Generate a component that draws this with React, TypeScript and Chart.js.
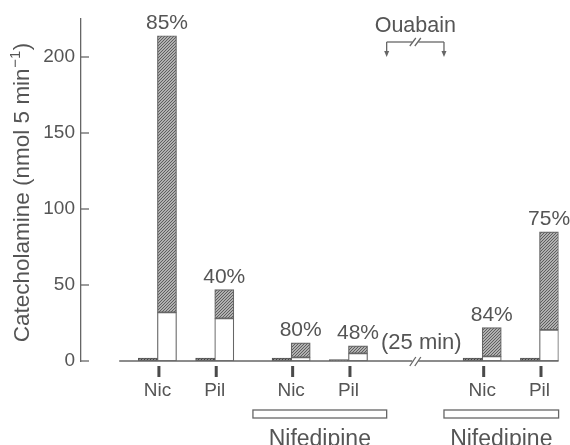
import React, { useEffect, useRef } from "react";
import { Chart, registerables } from "chart.js";

Chart.register(...registerables);

// ---- data ----
const stimuli = ["Nic", "Pil", "Nic", "Pil", "Nic", "Pil"];
const basalPeriods = [0, 3, 7, 10, 17, 20];
const stimulatedPeriods = [1, 4, 8, 11, 18, 21];
const basalValues = [2, 2, 2, 1, 2, 2];
const totalValues = [214, 47, 12, 10, 22, 85];
const lowerValues = [32, 28, 2.4, 5, 3, 20.5];
const percentLabels = ["85%", "40%", "80%", "48%", "84%", "75%"];
const yTicks = [0, 50, 100, 150, 200];
const nifedipinePeriods = [
  [6, 12],
  [16, 21],
];
const ouabainPeriods = [13, 15];
const breakPeriod = 14;
const breakLabel = "(25 min)";
const treatmentLabel = "Nifedipine";
const ouabainLabel = "Ouabain";
const yTitleMain = "Catecholamine (nmol 5 min";
const yTitleSup = "\u22121";
const yTitleEnd = ")";

// ---- style ----
const FONT = "'Liberation Sans', Arial, Helvetica, sans-serif";
const TEXT = "#555555";
const LINE = "#666666";

function makeHatch(bg: string, fg: string) {
  const c = document.createElement("canvas");
  c.width = 3;
  c.height = 3;
  const g = c.getContext("2d")!;
  g.fillStyle = bg;
  g.fillRect(0, 0, 3, 3);
  g.fillStyle = fg;
  g.fillRect(0, 2, 1, 1);
  g.fillRect(1, 1, 1, 1);
  g.fillRect(2, 0, 1, 1);
  return g.createPattern(c, "repeat")!;
}

const annotations = {
  id: "annotations",
  afterDraw(chart: any) {
    const { ctx, chartArea } = chart;
    const x = chart.scales.x;
    const y = chart.scales.y;
    const px = (v: number) => x.getPixelForValue(v);
    const py = (v: number) => y.getPixelForValue(v);
    const y0 = py(0);
    const line = (x1: number, y1: number, x2: number, y2: number) => {
      ctx.beginPath();
      ctx.moveTo(x1, y1);
      ctx.lineTo(x2, y2);
      ctx.stroke();
    };
    ctx.save();
    ctx.strokeStyle = LINE;
    ctx.lineWidth = 1.3;

    // inward y ticks
    yTicks.forEach((v) => line(chartArea.left, py(v), chartArea.left + 8, py(v)));

    // time baseline with break
    const xb = px(breakPeriod);
    const xs = px(basalPeriods[0] - 1.5);
    line(xs, y0, xb - 3, y0);
    line(xb + 3, y0, chartArea.right, y0);
    [-2.5, 2.5].forEach((d) => line(xb + d - 3, y0 + 5, xb + d + 3, y0 - 4));

    // stimulus markers
    ctx.fillStyle = "#4a4a4a";
    stimulatedPeriods.forEach((p) => {
      const xm = px(p - 0.5);
      ctx.fillRect(xm, y0 + 5, 3, 11);
    });

    // percent labels
    ctx.fillStyle = TEXT;
    ctx.textAlign = "center";
    ctx.textBaseline = "alphabetic";
    ctx.font = `21px ${FONT}`;
    stimulatedPeriods.forEach((p, i) => {
      ctx.fillText(percentLabels[i], px(p), py(totalValues[i]) - 6.5);
    });

    // break label
    ctx.font = `22px ${FONT}`;
    ctx.fillText(breakLabel, xb + 6, y0 - 12);

    // ouabain label + bracket
    ctx.font = `21.5px ${FONT}`;
    ctx.fillText(ouabainLabel, xb, 31.5);
    const xa1 = px(ouabainPeriods[0] - 0.5);
    const xa2 = px(ouabainPeriods[1] + 0.5);
    const yb = 42;
    line(xa1, yb, xb - 3, yb);
    line(xb + 3, yb, xa2, yb);
    [-2.5, 2.5].forEach((d) => line(xb + d - 3, yb + 4, xb + d + 3, yb - 4));
    [xa1, xa2].forEach((xa) => {
      line(xa, yb, xa, 52);
      ctx.fillStyle = LINE;
      ctx.beginPath();
      ctx.moveTo(xa - 2.5, 51);
      ctx.lineTo(xa + 2.5, 51);
      ctx.lineTo(xa, 57);
      ctx.closePath();
      ctx.fill();
    });

    // nifedipine boxes
    ctx.fillStyle = TEXT;
    ctx.font = `23px ${FONT}`;
    nifedipinePeriods.forEach(([a, b]) => {
      const x1 = px(a - 0.5);
      const x2 = px(b + 0.5);
      ctx.strokeRect(x1, 410, x2 - x1, 8);
      ctx.fillText(treatmentLabel, (x1 + x2) / 2, 446);
    });

    // y-axis title (rotated, with superscript)
    const fs = 22.5;
    const ss = 15;
    ctx.font = `${fs}px ${FONT}`;
    const wMain = ctx.measureText(yTitleMain).width;
    const wEnd = ctx.measureText(yTitleEnd).width;
    ctx.font = `${ss}px ${FONT}`;
    const wSup = ctx.measureText(yTitleSup).width;
    const total = wMain + wSup + 1 + wEnd;
    ctx.translate(29, 192.5);
    ctx.rotate(-Math.PI / 2);
    ctx.textAlign = "left";
    ctx.fillStyle = TEXT;
    let cx = -total / 2;
    ctx.font = `${fs}px ${FONT}`;
    ctx.fillText(yTitleMain, cx, 0);
    cx += wMain + 0.5;
    ctx.font = `${ss}px ${FONT}`;
    ctx.fillText(yTitleSup, cx, -9);
    cx += wSup + 0.5;
    ctx.font = `${fs}px ${FONT}`;
    ctx.fillText(yTitleEnd, cx, 0);
    ctx.restore();
  },
};

export default function App() {
  const ref = useRef<HTMLCanvasElement | null>(null);
  useEffect(() => {
    if (!ref.current) return;
    const hatch = makeHatch("#b0b0b0", "#5e5e5e");
    const darkHatch = makeHatch("#8a8a8a", "#444444");
    const common = {
      borderColor: LINE,
      borderWidth: 1.2,
      borderSkipped: false,
      categoryPercentage: 1,
      barPercentage: 1,
    };
    const chart = new Chart(ref.current, {
      type: "bar",
      data: {
        datasets: [
          {
            ...common,
            label: "basal",
            data: basalPeriods.map((p, i) => ({ x: p, y: basalValues[i] })),
            backgroundColor: darkHatch,
            borderColor: "#555555",
          },
          {
            ...common,
            label: "lower",
            data: stimulatedPeriods.map((p, i) => ({ x: p, y: lowerValues[i] })),
            backgroundColor: "#ffffff",
          },
          {
            ...common,
            label: "upper",
            data: stimulatedPeriods.map((p, i) => ({ x: p, y: totalValues[i] - lowerValues[i] })),
            backgroundColor: hatch,
          },
        ] as any,
      },
      options: {
        animation: false,
        responsive: false,
        events: [],
        layout: { padding: { left: 0, top: 19, right: 11.4, bottom: 0 } },
        plugins: { legend: { display: false }, tooltip: { enabled: false } },
        scales: {
          x: {
            type: "linear",
            stacked: true,
            min: -3.5,
            max: 21.5,
            offset: false,
            grid: { display: false, drawTicks: false, offset: false },
            border: { display: false },
            afterBuildTicks: (s: any) => {
              s.ticks = stimulatedPeriods.map((p) => ({ value: p - 0.5 }));
            },
            afterFit: (s: any) => {
              s.height = 84;
            },
            ticks: {
              autoSkip: false,
              maxRotation: 0,
              minRotation: 0,
              padding: 18,
              color: TEXT,
              font: { family: FONT, size: 19 },
              callback: (_v: any, i: number) => stimuli[i],
            },
          },
          y: {
            stacked: true,
            min: 0,
            max: 225,
            grid: { display: false, drawTicks: false },
            border: { display: true, color: LINE, width: 1.3 },
            afterBuildTicks: (s: any) => {
              s.ticks = yTicks.map((v) => ({ value: v }));
            },
            afterFit: (s: any) => {
              s.width = 81;
            },
            ticks: {
              padding: 6,
              color: TEXT,
              font: { family: FONT, size: 19 },
            },
            title: { display: false },
          },
        },
      } as any,
      plugins: [annotations],
    });
    return () => chart.destroy();
  }, []);
  return (
    <div style={{ position: "fixed", left: 0, top: 0, width: 570, height: 445, background: "#fff" }}>
      <canvas ref={ref} width={570} height={445} style={{ width: 570, height: 445 }} />
    </div>
  );
}
